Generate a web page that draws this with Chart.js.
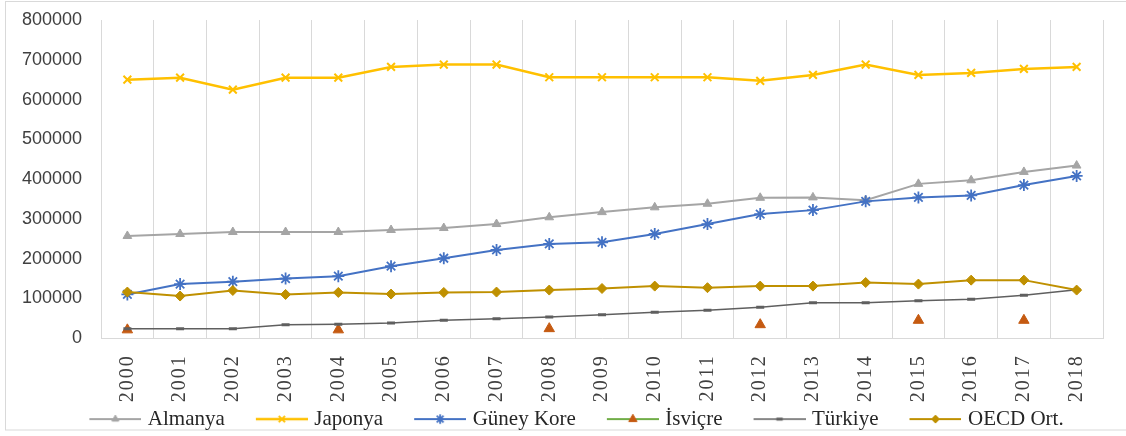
<!DOCTYPE html>
<html>
<head>
<meta charset="utf-8">
<script src="https://cdn.jsdelivr.net/npm/chart.js@4/dist/chart.umd.min.js"></script>
<style>
  html, body { margin: 0; padding: 0; background: #ffffff; }
  #wrap { width: 1126px; height: 436px; position: relative; }
</style>
</head>
<body>
<div id="wrap"><canvas id="chart" width="1126" height="436"></canvas></div>
<script>
// Years on the category axis
const years = ['2000','2001','2002','2003','2004','2005','2006','2007','2008','2009',
               '2010','2011','2012','2013','2014','2015','2016','2017','2018'];

// Series values per year
const almanya   = [257000, 262000, 267000, 267000, 267000, 272000, 277000, 287000, 304000, 317000,
                   329000, 338000, 353000, 354000, 347000, 388000, 397000, 418000, 434000];
const japonya   = [650000, 655000, 625000, 655000, 655000, 682000, 688000, 688000, 656000, 656000,
                   656000, 656000, 647000, 662000, 688000, 662000, 667000, 677000, 682000];
const guneyKore = [110000, 136000, 142000, 150000, 156000, 181000, 201000, 222000, 237000, 241000,
                   262000, 287000, 312000, 322000, 344000, 354000, 359000, 385000, 408000];
const isvicre   = [21000, null, null, null, 21000, null, null, null, 24000, null,
                   null, null, 34000, null, null, 45000, null, 45000, null];
const turkiye   = [24000, 24000, 24000, 34000, 35000, 38000, 45000, 49000, 53000, 59000,
                   65000, 70000, 78000, 89000, 89000, 94000, 98000, 108000, 122000];
const oecdOrt   = [116000, 106000, 120000, 110000, 115000, 111000, 115000, 116000, 121000, 125000,
                   131000, 127000, 131000, 131000, 140000, 136000, 146000, 146000, 121000];

// Y axis range
const yMin = 0, yMax = 800000, yStep = 100000;

// Category scale that draws its tick labels with a little letter spacing
class SpacedCategoryScale extends Chart.CategoryScale {
  drawLabels(chartArea) {
    const ctx = this.ctx;
    ctx.save();
    ctx.letterSpacing = '2px';
    super.drawLabels(chartArea);
    ctx.restore();
  }
}
SpacedCategoryScale.id = 'spacedCategory';
SpacedCategoryScale.defaults = Chart.CategoryScale.defaults;
Chart.register(SpacedCategoryScale);

const series = [
  { label: 'Almanya',    data: almanya,   line: '#A5A5A5', lw: 2,   style: 'triangle', r: 5, fill: '#A5A5A5', stroke: '#A5A5A5', bw: 1,   order: 5 },
  { label: 'Japonya',    data: japonya,   line: '#FFC000', lw: 2.5, style: 'crossRot', r: 5.5, fill: '#FFC000', stroke: '#FFC000', bw: 2, order: 4 },
  { label: 'Güney Kore', data: guneyKore, line: '#4472C4', lw: 2,   style: 'star',     r: 6, fill: '#4472C4', stroke: '#4472C4', bw: 1.8, order: 3 },
  { label: 'İsviçre',    data: isvicre,   line: '#70AD47', lw: 2,   style: 'triangle', r: 6, fill: '#C55A11', stroke: '#C55A11', bw: 1,   order: 2 },
  { label: 'Türkiye',    data: turkiye,   line: '#5F5F5F', lw: 1.5, style: 'line',     r: 4, fill: '#5F5F5F', stroke: '#5F5F5F', bw: 3,   order: 1 },
  { label: 'OECD Ort.',  data: oecdOrt,   line: '#BF9000', lw: 2,   style: 'rectRot',  r: 5, fill: '#BF9000', stroke: '#BF9000', bw: 1,   order: 0 }
];

// Legend icon: short line segment with the series marker in its middle.
// The image is a bit wider than the legend box so the line reaches close to the text.
const BOX_W = 72, ICON_OVER = 4, ICON_GAP = 24, ICON_H = 16;
function makeIcon(s) {
  const c = document.createElement('canvas');
  c.width = BOX_W + 2 * ICON_OVER;
  c.height = ICON_H;
  const g = c.getContext('2d');
  const x0 = ICON_OVER + ICON_GAP, x1 = c.width;
  g.strokeStyle = s.line;
  g.lineWidth = s.lw;
  g.beginPath();
  g.moveTo(x0, ICON_H / 2);
  g.lineTo(x1, ICON_H / 2);
  g.stroke();
  g.fillStyle = s.fill;
  g.strokeStyle = s.stroke;
  g.lineWidth = s.bw;
  const cx = (x0 + x1) / 2, cy = ICON_H / 2;
  if (Chart.helpers && Chart.helpers.drawPoint) {
    Chart.helpers.drawPoint(g, { pointStyle: s.style, rotation: 0, radius: s.r * 0.8, borderWidth: s.bw }, cx, cy);
  } else {
    g.beginPath(); g.arc(cx, cy, 3, 0, Math.PI * 2); g.fill();
  }
  return c;
}
const icons = series.map(makeIcon);

const datasets = series.map(s => ({
  label: s.label,
  data: s.data,
  borderColor: s.line,
  backgroundColor: s.fill,
  borderWidth: s.lw,
  pointStyle: s.style,
  pointRadius: s.r,
  pointHoverRadius: s.r,
  pointBackgroundColor: s.fill,
  pointBorderColor: s.stroke,
  pointBorderWidth: s.bw,
  tension: 0,
  spanGaps: false,
  fill: false,
  order: s.order
}));

// Light frame around the whole figure
const framePlugin = {
  id: 'frame',
  beforeDraw(chart) {
    const ctx = chart.ctx;
    ctx.save();
    ctx.fillStyle = '#ffffff';
    ctx.fillRect(0, 0, chart.width, chart.height);
    ctx.strokeStyle = '#D9D9D9';
    ctx.lineWidth = 1;
    ctx.strokeRect(5.5, 1.5, chart.width, 428.5);
    ctx.restore();
  }
};

new Chart(document.getElementById('chart'), {
  type: 'line',
  data: { labels: years, datasets },
  options: {
    responsive: false,
    animation: false,
    devicePixelRatio: 1,
    layout: { padding: { left: 3, right: 0, top: 20, bottom: -3.6 } },
    plugins: {
      tooltip: { enabled: false },
      legend: {
        position: 'bottom',
        align: 'center',
        labels: {
          usePointStyle: true,
          pointStyleWidth: BOX_W,
          padding: 7,
          color: '#262626',
          font: { family: "'Liberation Serif', 'Times New Roman', serif", size: 21 },
          sort: (a, b) => a.datasetIndex - b.datasetIndex,
          generateLabels(chart) {
            const items = Chart.defaults.plugins.legend.labels.generateLabels(chart);
            items.forEach(it => { it.pointStyle = icons[it.datasetIndex]; });
            return items;
          }
        }
      }
    },
    scales: {
      x: {
        type: 'spacedCategory',
        offset: true,
        grid: { offset: true, color: '#D9D9D9', lineWidth: 1, drawTicks: false },
        border: { color: '#D9D9D9', width: 1 },
        ticks: {
          autoSkip: false,
          minRotation: 90,
          maxRotation: 90,
          padding: 16,
          color: '#404040',
          font: { family: "'Liberation Serif', 'Times New Roman', serif", size: 20 }
        },
        afterFit(scale) { scale.height = 63.4; scale.paddingTop = 0; scale.paddingBottom = 0; }
      },
      y: {
        min: yMin,
        max: yMax,
        grid: { display: false, drawTicks: false },
        border: { display: true, color: '#D9D9D9', width: 1 },
        ticks: {
          stepSize: yStep,
          padding: 19,
          color: '#404040',
          font: { family: "'Liberation Sans', Arial, sans-serif", size: 18 },
          callback: (v) => String(v)
        },
        afterFit(scale) { scale.width = 98; scale.paddingTop = 0; scale.paddingBottom = 0; }
      },
      // empty right-hand margin beside the plot
      yRight: {
        position: 'right',
        grid: { display: false, drawTicks: false },
        border: { display: false },
        ticks: { display: false },
        afterFit(scale) { scale.width = 23; scale.paddingTop = 0; scale.paddingBottom = 0; }
      }
    }
  },
  plugins: [framePlugin]
});
</script>
</body>
</html>
